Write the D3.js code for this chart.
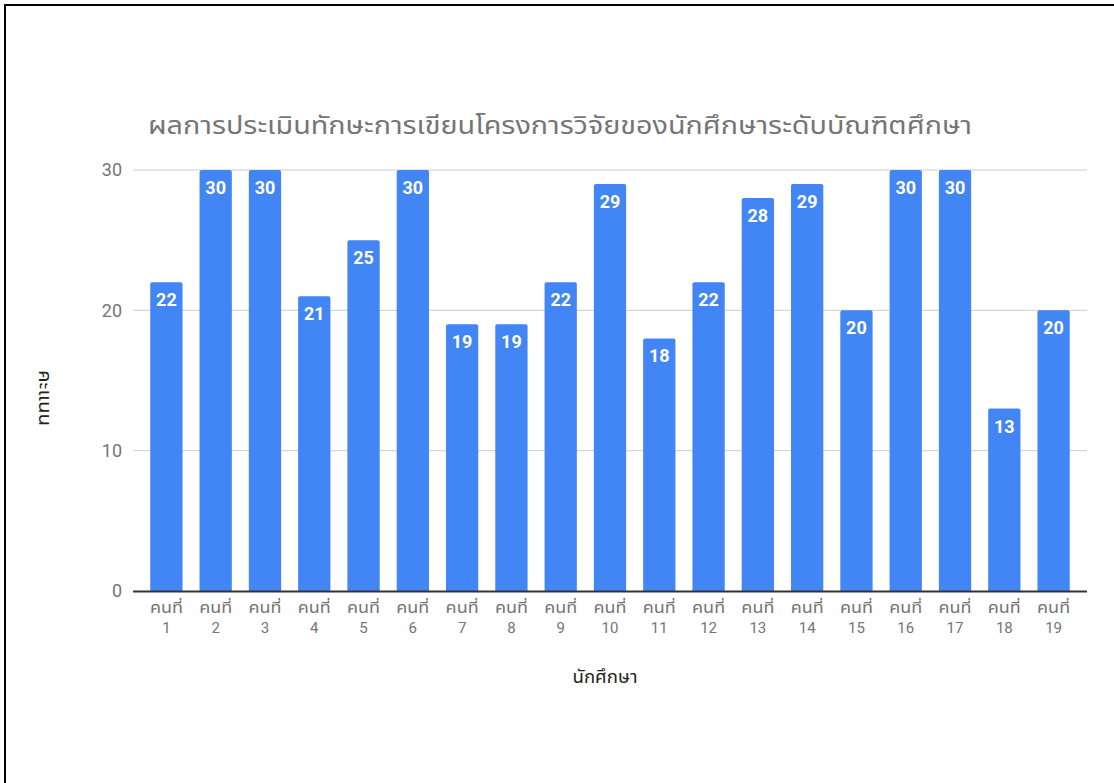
<!DOCTYPE html>
<html>
<head>
<meta charset="utf-8">
<script src="https://cdn.jsdelivr.net/npm/d3@7"></script>
<style>
  html, body { margin: 0; padding: 0; background: #fff; }
  svg { display: block; }
</style>
</head>
<body>
<div id="chart"></div>
<script>
// ข้อมูล
const students = ["1","2","3","4","5","6","7","8","9","10","11","12","13","14","15","16","17","18","19"];
const scores = [22, 30, 30, 21, 25, 30, 19, 19, 22, 29, 18, 22, 28, 29, 20, 30, 30, 13, 20];
const yTicks = [0, 10, 20, 30];
const titleText = "ผลการประเมินทักษะการเขียนโครงการวิจัยของนักศึกษาระดับบัณฑิตศึกษา";
const xTitle = "นักศึกษา";
const yTitle = "คะแนน";
const tickPrefix = "คนที่";

const width = 1114, height = 783;
const margin = { top: 170, right: 27, bottom: 192, left: 133 };
const font = "Roboto, 'Noto Sans Thai', 'Noto Sans', sans-serif";

const svg = d3.select('#chart').append('svg')
    .attr('width', width)
    .attr('height', height)
    .style('font-family', font);

// กรอบ
svg.append('rect')
    .attr('x', 5).attr('y', 5)
    .attr('width', width + 10).attr('height', height + 10)
    .attr('fill', 'none')
    .attr('stroke', '#000')
    .attr('stroke-width', 2);

const x = d3.scaleBand()
    .domain(students)
    .range([margin.left, width - margin.right])
    .paddingInner(0.345)
    .paddingOuter(0.35);

const y = d3.scaleLinear()
    .domain([0, 30])
    .range([height - margin.bottom, margin.top]);

// เส้นกริด
svg.append('g')
    .selectAll('line')
    .data(yTicks.filter(d => d > 0))
    .join('line')
    .attr('x1', margin.left)
    .attr('x2', width - margin.right)
    .attr('y1', d => y(d))
    .attr('y2', d => y(d))
    .attr('stroke', '#ccc')
    .attr('stroke-width', 1);

// แกน y
svg.append('g')
    .selectAll('text')
    .data(yTicks)
    .join('text')
    .attr('x', margin.left - 11)
    .attr('y', d => y(d))
    .attr('dy', '0.35em')
    .attr('text-anchor', 'end')
    .attr('fill', '#757575')
    .style('font-size', '18px')
    .text(d => d);

// แท่ง
const r = 2;
svg.append('g')
    .selectAll('path')
    .data(scores)
    .join('path')
    .attr('fill', '#4285F4')
    .attr('d', (d, i) => {
        const x0 = x(students[i]), x1 = x0 + x.bandwidth();
        const yt = y(d), yb = y(0);
        return `M${x0},${yb}V${yt + r}Q${x0},${yt} ${x0 + r},${yt}H${x1 - r}Q${x1},${yt} ${x1},${yt + r}V${yb}Z`;
    });

// ป้ายค่า
svg.append('g')
    .selectAll('text')
    .data(scores)
    .join('text')
    .attr('x', (d, i) => x(students[i]) + x.bandwidth() / 2)
    .attr('y', d => y(d) + 24)
    .attr('text-anchor', 'middle')
    .attr('fill', '#fff')
    .style('font-size', '18px')
    .style('font-weight', 'bold')
    .text(d => d);

// เส้นแกน x
svg.append('line')
    .attr('x1', margin.left)
    .attr('x2', width - margin.right)
    .attr('y1', y(0) + 0.5)
    .attr('y2', y(0) + 0.5)
    .attr('stroke', '#333')
    .attr('stroke-width', 2);

// ป้ายแกน x
const xl = svg.append('g')
    .selectAll('text')
    .data(students)
    .join('text')
    .attr('text-anchor', 'middle')
    .attr('fill', '#757575')
    .style('font-size', '15px');
xl.append('tspan')
    .attr('x', d => x(d) + x.bandwidth() / 2)
    .attr('y', y(0) + 22)
    .attr('textLength', 33)
    .attr('lengthAdjust', 'spacingAndGlyphs')
    .text(tickPrefix);
xl.append('tspan')
    .attr('x', d => x(d) + x.bandwidth() / 2)
    .attr('y', y(0) + 42)
    .text(d => d);

// ชื่อกราฟ
svg.append('text')
    .attr('x', 148)
    .attr('y', 134)
    .attr('fill', '#757575')
    .style('font-size', '25px')
    .attr('textLength', 824)
    .attr('lengthAdjust', 'spacingAndGlyphs')
    .text(titleText);

svg.append('text')
    .attr('x', 605)
    .attr('y', 683)
    .attr('text-anchor', 'middle')
    .attr('fill', '#222')
    .style('font-size', '17px')
    .attr('textLength', 65)
    .attr('lengthAdjust', 'spacingAndGlyphs')
    .text(xTitle);

svg.append('text')
    .attr('transform', `translate(39,398) rotate(90)`)
    .attr('text-anchor', 'middle')
    .attr('fill', '#222')
    .style('font-size', '17px')
    .attr('textLength', 56)
    .attr('lengthAdjust', 'spacingAndGlyphs')
    .text(yTitle);
</script>
</body>
</html>
